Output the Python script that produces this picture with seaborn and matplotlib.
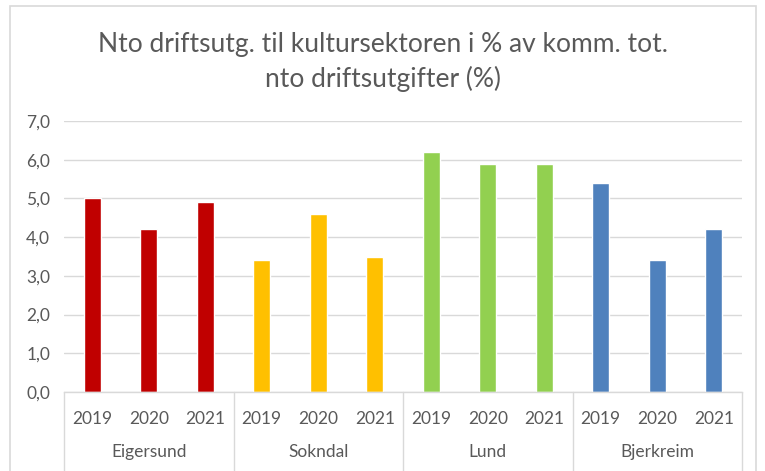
import matplotlib
matplotlib.use("Agg")
import matplotlib.pyplot as plt
import matplotlib.transforms as mtransforms
from matplotlib.patches import Rectangle
import seaborn as sns
import pandas as pd

municipalities = ["Eigersund", "Sokndal", "Lund", "Bjerkreim"]
years = ["2019", "2020", "2021"]
values_eigersund = [5.0, 4.2, 4.9]
values_sokndal = [3.4, 4.6, 3.5]
values_lund = [6.2, 5.9, 5.9]
values_bjerkreim = [5.4, 3.4, 4.2]
colors = ["#C00000", "#FFC000", "#92D050", "#4F81BD"]
title = "Nto driftsutg. til kultursektoren i % av komm. tot.\nnto driftsutgifter (%)"
yticks = [0, 1, 2, 3, 4, 5, 6, 7]

all_vals = [values_eigersund, values_sokndal, values_lund, values_bjerkreim]
rows = []
for m, vals in zip(municipalities, all_vals):
    for y, v in zip(years, vals):
        rows.append({"key": f"{m}-{y}", "Kommune": m, "year": y, "value": v})
df = pd.DataFrame(rows)

sns.set_theme(style="white")
plt.rcParams["font.family"] = ["Lato", "DejaVu Sans"]

fig = plt.figure(figsize=(7.65, 4.71), dpi=100)
ax = fig.add_axes([64 / 765, 1 - 392 / 471, (742 - 64) / 765, (392 - 121) / 471])

sns.barplot(data=df, x="key", y="value", hue="Kommune", palette=colors,
            dodge=False, width=0.3, ax=ax, legend=False, saturation=1)

ax.set_ylim(0, 7)
ax.set_xlim(-0.5, len(df) - 0.5)
ax.set_yticks(yticks)
ax.set_yticklabels([f"{t:.1f}".replace(".", ",") for t in yticks],
                   color="#595959", fontsize=12.5)
ax.tick_params(axis="y", length=0, pad=10)
ax.grid(axis="y", color="#D9D9D9", linewidth=1)
ax.set_axisbelow(True)
for s in ["left", "right", "top"]:
    ax.spines[s].set_visible(False)
ax.spines["bottom"].set_color("#D9D9D9")
ax.spines["bottom"].set_linewidth(1)
ax.set_xlabel("")
ax.set_ylabel("")

ax.set_xticks(range(len(df)))
ax.set_xticklabels(df["year"].tolist(), color="#595959", fontsize=12.5)
ax.tick_params(axis="x", length=0, pad=14)

trans = mtransforms.blended_transform_factory(ax.transData, ax.transAxes)
n = len(years)
for i, m in enumerate(municipalities):
    center = i * n + (n - 1) / 2
    ax.text(center, -0.222, m, transform=trans, ha="center", va="center",
            color="#595959", fontsize=12.5)
for i in range(len(municipalities) + 1):
    xpos = i * n - 0.5
    ax.plot([xpos, xpos], [0, -0.30], transform=trans, color="#D9D9D9",
            linewidth=1, clip_on=False)

fig.text(383 / 765, 1 - 62 / 471, title, ha="center", va="center",
         fontsize=19, color="#595959", linespacing=1.4)

fig.patches.append(Rectangle((10 / 765, -0.05), (756 - 10) / 765, 1 - 6 / 471 + 0.05,
                             transform=fig.transFigure, fill=False,
                             edgecolor="#D9D9D9", linewidth=1.2))

fig.savefig("out.png", dpi=100)
